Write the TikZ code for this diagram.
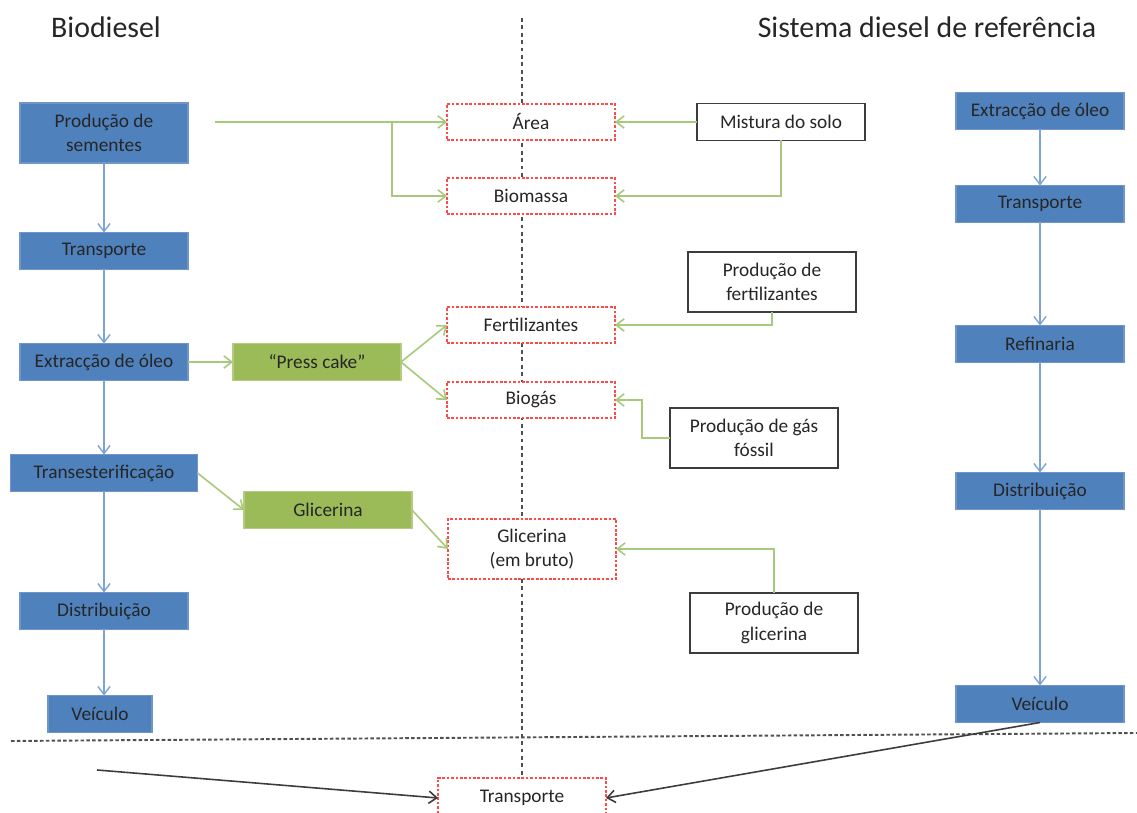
\documentclass[tikz,border=0pt]{standalone}
\usepackage{fontspec}
\setmainfont{Carlito}
\usetikzlibrary{arrows.meta,backgrounds}
\definecolor{boxblue}{HTML}{4F81BD}
\definecolor{blueedge}{HTML}{7096C8}
\definecolor{arrowblue}{HTML}{7FA2D4}
\definecolor{boxgreen}{HTML}{9BBB59}
\definecolor{greenedge}{HTML}{B3CC82}
\definecolor{arrowgreen}{HTML}{A8C97A}
\definecolor{dashred}{HTML}{FF4A4A}
\definecolor{edgegrey}{HTML}{3C3C3C}
\definecolor{linegrey}{HTML}{505050}
\definecolor{txtgrey}{HTML}{262626}

\begin{document}
\begin{tikzpicture}
  [x=0.02cm,y=-0.02cm,
   every node/.style={font=\fontsize{11}{14}\selectfont,text=txtgrey,align=center,inner sep=0pt,outer sep=0pt},
   bluebox/.style={rectangle,fill=boxblue,draw=blueedge,line width=0.8pt,minimum width=3.36cm,minimum height=0.74cm},
   greenbox/.style={rectangle,fill=boxgreen,draw=greenedge,line width=0.8pt,minimum width=3.36cm,minimum height=0.74cm},
   redbox/.style={rectangle,fill=white,draw=dashred,dash pattern=on 1.5pt off 1pt,line width=0.6pt,minimum width=3.36cm,minimum height=0.72cm},
   blackbox/.style={rectangle,fill=white,draw=edgegrey,line width=1.1pt,minimum width=3.36cm,minimum height=0.74cm},
   twolines/.style={minimum height=1.2cm},
   title/.style={font=\fontsize{17}{20}\selectfont},
   barrow/.style={draw=arrowblue,line width=0.8pt,-{Straight Barb[length=4.5pt,width=7pt]}},
   garrow/.style={draw=arrowgreen,line width=0.9pt,-{Straight Barb[length=4.5pt,width=7pt]}},
   karrow/.style={draw=edgegrey,line width=0.9pt,-{Straight Barb[length=4.5pt,width=7pt]}}]
  \useasboundingbox (0,0) rectangle (1137,813);
  \clip (0,0) rectangle (1137,813);

  \node[title] (titleL) at (106,27) {Biodiesel};
  \node[title] (titleR) at (927,27) {Sistema diesel de referência};

  % biodiesel chain
  \node[bluebox,twolines] (prod) at (104,133) {Produção de\\sementes};
  \node[bluebox] (transpL) at (104,251) {Transporte};
  \node[bluebox] (extrL) at (104,362) {Extracção de óleo};
  \node[bluebox,minimum width=3.74cm] (trans) at (104,473) {Transesterificação};
  \node[bluebox] (distrL) at (104,611) {Distribuição};
  \node[bluebox,minimum width=2.08cm] (veicL) at (100,714) {Veículo};

  \node[greenbox] (press) at (317,362) {“Press cake”};
  \node[greenbox] (glicG) at (328,510) {Glicerina};

  % middle
  \node[redbox] (area) at (531,122) {Área};
  \node[redbox] (biomassa) at (531,196) {Biomassa};
  \node[redbox] (fert) at (531,325) {Fertilizantes};
  \node[redbox] (biogas) at (531,400) {Biogás};
  \node[redbox,twolines] (glicB) at (532,549) {Glicerina\\(em bruto)};
  \node[redbox,minimum height=0.8cm] (transpB) at (522,798) {Transporte};

  \node[blackbox] (mistura) at (781,122) {Mistura do solo};
  \node[blackbox,twolines] (prodfert) at (772,282) {Produção de\\fertilizantes};
  \node[blackbox,twolines] (prodgas) at (754,438) {Produção de gás\\fóssil};
  \node[blackbox,twolines] (prodglic) at (774,623) {Produção de\\glicerina};

  % reference diesel chain
  \node[bluebox] (extrR) at (1040,111) {Extracção de óleo};
  \node[bluebox] (transpR) at (1040,204) {Transporte};
  \node[bluebox] (refin) at (1040,344) {Refinaria};
  \node[bluebox] (distrR) at (1040,491) {Distribuição};
  \node[bluebox] (veicR) at (1040,704) {Veículo};

  \begin{pgfonlayer}{background}
    \draw[linegrey,line width=0.8pt,dash pattern=on 2.2pt off 2pt] (522,18) -- (522,778);
    \draw[linegrey,line width=1.1pt,dash pattern=on 2pt off 1.3pt] (11,741) -- (1137,733);
  \end{pgfonlayer}

  \foreach \from/\to in {prod/transpL, transpL/extrL, extrL/trans, trans/distrL, distrL/veicL,
                         extrR/transpR, transpR/refin, refin/distrR, distrR/veicR}
    \draw[barrow] (\from.south) -- (\from.south |- \to.north);

  \coordinate (seedout) at (215,122);
  \coordinate (seedsplit) at (392,122);
  \draw[garrow] (seedout) -- (area.west);
  \draw[garrow] (seedsplit) |- (biomassa.west);
  \draw[garrow] (mistura.west) -- (area.east);
  \draw[garrow] (mistura.south) |- (biomassa.east);
  \draw[garrow] (prodfert.south) |- (fert.east);
  \draw[garrow] (prodgas.west) -- ++(-28,0) |- (biogas.east);
  \draw[garrow] (prodglic.north) |- (glicB.east);

  \foreach \from/\to in {extrL/press, press/fert, press/biogas, trans/glicG, glicG/glicB}
    \draw[garrow] (\from.east) -- (\to.west);

  \coordinate (veicin) at (97,770);
  \draw[karrow] (veicin) -- (transpB.west);
  \draw[karrow] (veicR.south) -- (transpB.east);

\end{tikzpicture}
\end{document}
